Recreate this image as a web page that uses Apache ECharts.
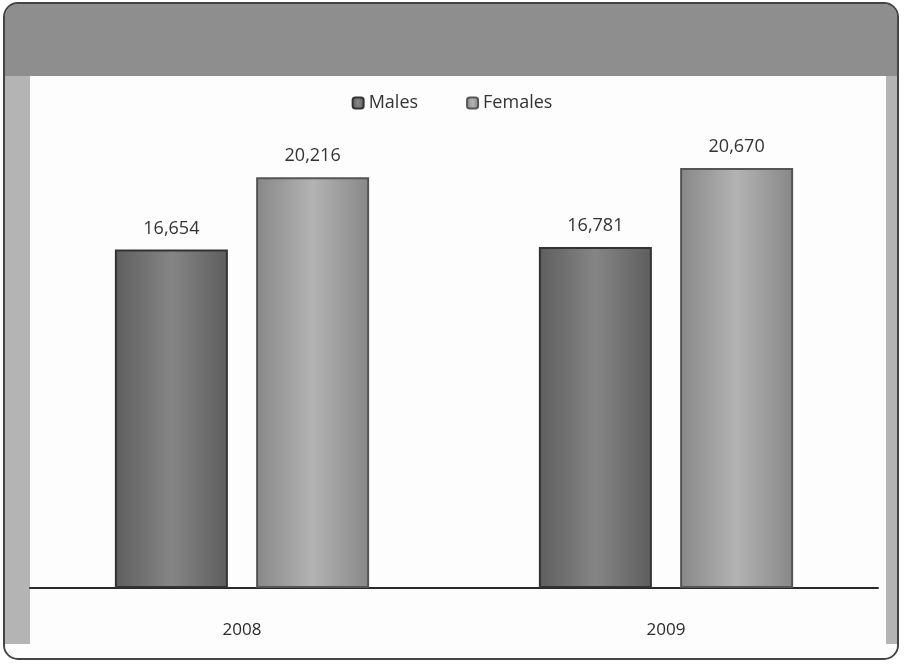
<!DOCTYPE html>
<html>
<head>
<meta charset="utf-8">
<script src="https://cdn.jsdelivr.net/npm/echarts@6/dist/echarts.min.js"></script>
<style>
  html, body { margin: 0; padding: 0; background: #fff; }
  #chart { width: 904px; height: 664px; }
</style>
</head>
<body>
<div id="chart"></div>
<script>
// values
const years = ['2008', '2009'];
const males = [16654, 16781];
const females = [20216, 20670];

const chart = echarts.init(document.getElementById('chart'));

// horizontal gradient, darker edges and lighter middle like the scan
function grad(edge, mid) {
    return new echarts.graphic.LinearGradient(0, 0, 1, 0, [
        { offset: 0, color: edge },
        { offset: 0.5, color: mid },
        { offset: 1, color: edge }
    ]);
}

const labelStyle = {
    show: true,
    position: 'top',
    distance: 12,
    color: '#333',
    fontFamily: 'Open Sans',
    fontSize: 18,
    formatter: p => p.value.toLocaleString('en-US')
};

chart.setOption({
    backgroundColor: '#fff',
    animation: false,
    graphic: [
        {
            type: 'rect', z: -10, silent: true,
            shape: { x: 4, y: 3, width: 894, height: 656, r: 14 },
            style: { fill: '#b4b4b4', stroke: '#444', lineWidth: 2 }
        },
        {
            type: 'rect', z: -9, silent: true,
            shape: { x: 5, y: 4, width: 892, height: 72, r: [13, 13, 0, 0] },
            style: { fill: '#8e8e8e' }
        },
        {
            type: 'rect', z: -8, silent: true,
            shape: { x: 30, y: 76, width: 856, height: 568 },
            style: { fill: '#fdfdfd' }
        },
        {
            type: 'rect', z: -7, silent: true,
            shape: { x: 5, y: 644, width: 892, height: 14, r: [0, 0, 13, 13] },
            style: { fill: '#fdfdfd' }
        }
    ],
    legend: {
        top: 89,
        left: 'center',
        itemGap: 48,
        itemWidth: 11,
        itemHeight: 11,
        textStyle: { color: '#333', fontFamily: 'Open Sans', fontSize: 18 },
        data: ['Males', 'Females']
    },
    grid: { left: 30, right: 26, top: 80, bottom: 76 },
    xAxis: {
        type: 'category',
        data: years,
        axisLine: { lineStyle: { color: '#2a2a2a', width: 2 } },
        axisTick: { show: false },
        axisLabel: { color: '#2a2a2a', fontFamily: 'Open Sans', fontSize: 17, margin: 34 }
    },
    yAxis: {
        type: 'value',
        min: 0,
        max: 25000,
        show: false,
        splitLine: { show: false }
    },
    series: [
        {
            name: 'Males',
            type: 'bar',
            data: males,
            barWidth: 113,
            barGap: '25%',
            itemStyle: { color: grad('#5e5e5e', '#858585'), borderColor: '#333', borderWidth: 2 },
            label: labelStyle
        },
        {
            name: 'Females',
            type: 'bar',
            data: females,
            barWidth: 113,
            itemStyle: { color: grad('#878787', '#b3b3b3'), borderColor: '#555', borderWidth: 2 },
            label: labelStyle
        }
    ]
});
</script>
</body>
</html>
